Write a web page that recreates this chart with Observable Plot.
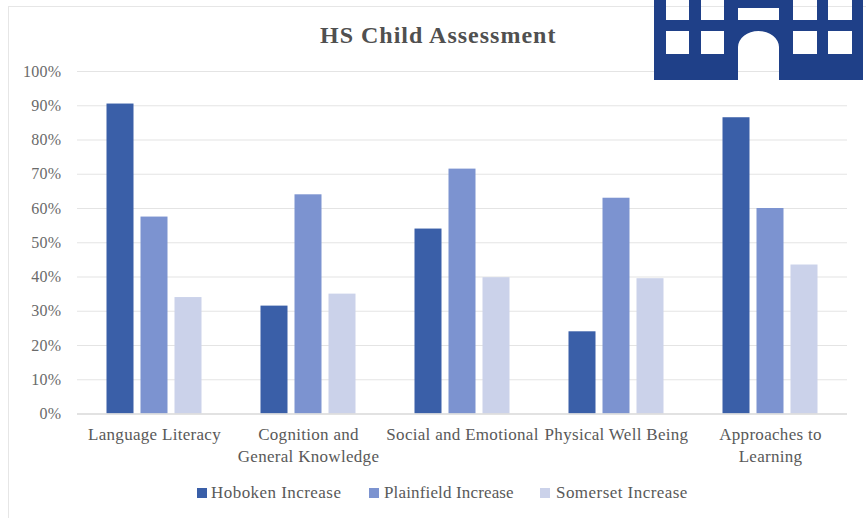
<!DOCTYPE html>
<html><head><meta charset="utf-8">
<script src="https://cdn.jsdelivr.net/npm/d3@7"></script>
<script src="https://cdn.jsdelivr.net/npm/@observablehq/plot@0.6"></script>
<style>
html,body{margin:0;padding:0;background:#fff}
#wrap{position:relative;width:866px;height:518px;overflow:hidden;font-family:"Liberation Serif",serif;background:#fff}
#frame{position:absolute;left:8px;top:6px;right:-4px;bottom:-4px;border-left:1.5px solid #e6e6e6;border-top:1.5px solid #e6e6e6}
#title{position:relative;height:50px;box-sizing:border-box;padding:21px 0 0 320px;font-size:24px;letter-spacing:1px;line-height:28px;font-weight:bold;color:#505050;white-space:nowrap}
#chart{position:relative}
#chart svg{display:block;background:transparent}
#chart svg text{letter-spacing:.3px}
#legend{position:relative;height:48px;font-size:17px;letter-spacing:.45px;color:#595959}
#legend span{position:absolute;top:13px;line-height:20px;white-space:nowrap}
#legend span:nth-of-type(2){letter-spacing:.15px}
#legend i{position:absolute;top:18px;width:10px;height:10px}
#icon{position:absolute;left:654px;top:0}
</style></head><body>
<div id="wrap">
<div id="frame"></div>
<div id="title"></div>
<div id="chart"></div>
<div id="legend"></div>
<svg id="icon" width="210" height="81" viewBox="0 0 210 81"><path fill="#1f4088" fill-rule="evenodd" d="M0 0H209V80H125V47A20.5 16 0 0 0 84 47V80H0Z M12 0V20H35V0Z M47 0V20H70V0Z M84 8V20H125V8Z M139 0V20H163V0Z M174 0V20H198V0Z M12 31V54H35V31Z M47 31V54H70V31Z M139 31V54H163V31Z M174 31V54H198V31Z"/></svg>
</div>
<script>
const titleText = "HS Child Assessment";
const categories = ["Language Literacy", "Cognition and\nGeneral Knowledge", "Social and Emotional", "Physical Well Being", "Approaches to\nLearning"];
const seriesNames = ["Hoboken Increase", "Plainfield Increase", "Somerset Increase"];
const hoboken = [90.5, 31.5, 54, 24, 86.5];
const plainfield = [57.5, 64, 71.5, 63, 60];
const somerset = [34, 35, 39.8, 39.5, 43.5];
const colors = ["#3a5fa8", "#7c93d0", "#cbd2ea"];
const yTicks = [0, 10, 20, 30, 40, 50, 60, 70, 80, 90, 100];

const table = [];
[hoboken, plainfield, somerset].forEach((vals, s) =>
  vals.forEach((v, c) => table.push({category: categories[c], series: seriesNames[s], value: v})));

document.getElementById("title").textContent = titleText;

const chart = Plot.plot({
  width: 866, height: 420,
  marginTop: 21, marginBottom: 56.5, marginLeft: 75.5, marginRight: 18,
  style: {fontFamily: '"Liberation Serif", serif', background: "transparent"},
  fx: {domain: categories, padding: 0, label: null},
  x: {domain: seriesNames, paddingInner: 0.22, paddingOuter: 0.85, axis: null},
  y: {domain: [0, 100], label: null},
  color: {domain: seriesNames, range: colors},
  marks: [
    Plot.ruleY(yTicks.slice(1), {stroke: "#e4e4e4", strokeWidth: 1.2, strokeOpacity: 1}),
    Plot.barY(table, {fx: "category", x: "series", y: "value", fill: "series"}),
    Plot.ruleY([0], {stroke: "#d9d9d9", strokeWidth: 1.5}),
    Plot.axisY({ticks: yTicks, tickSize: 0, tickPadding: 16, tickFormat: d => d + "%", fontSize: 16, fill: "#6a6a6a", label: null}),
    Plot.axisFx({anchor: "bottom", tickSize: 0, tickPadding: 10, fontSize: 17, fill: "#595959", label: null, lineHeight: 1.3, lineWidth: 30})
  ]
});
document.getElementById("chart").appendChild(chart);

const legend = document.getElementById("legend");
const swatchX = [197, 369, 540];
const labelX = [211, 384, 556];
seriesNames.forEach((name, i) => {
  const sw = document.createElement("i");
  sw.style.left = swatchX[i] + "px";
  sw.style.background = colors[i];
  legend.appendChild(sw);
  const t = document.createElement("span");
  t.style.left = labelX[i] + "px";
  t.textContent = name;
  legend.appendChild(t);
});
</script>
</body></html>
